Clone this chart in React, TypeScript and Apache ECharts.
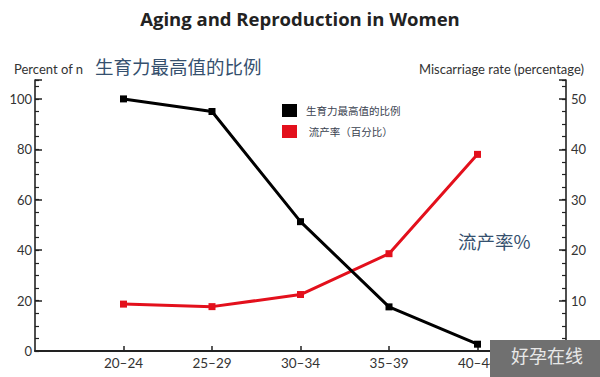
import React, { useEffect, useRef } from "react";
import * as echarts from "echarts";

const categories = ["20–24", "25–29", "30–34", "35–39", "40–44"];
const fertility = [100, 95, 51.3, 17.5, 2.7];
const miscarriage = [9.3, 8.8, 11.2, 19.3, 39];
const leftLabels = [0, 20, 40, 60, 80, 100];
const rightLabels = [10, 20, 30, 40, 50];
const seriesNames = ["生育力最高值的比例", " 流产率（百分比）"];

const FONT = "Lato, 'Noto Sans CJK SC', sans-serif";

export default function App() {
  const ref = useRef<HTMLDivElement>(null);
  useEffect(() => {
    if (!ref.current) return;
    const chart = echarts.init(ref.current, null, { renderer: "svg" });
    const axisLine = { show: true, onZero: false, lineStyle: { color: "#222", width: 1.6 } };
    chart.setOption({
      animation: false,
      backgroundColor: "#fff",
      textStyle: { fontFamily: FONT },
      title: {
        text: "Aging and Reproduction in Women",
        left: "center",
        top: 4,
        textStyle: { fontSize: 18.5, fontWeight: "bold", color: "#222", fontFamily: "'Open Sans', sans-serif" },
      },
      legend: {
        orient: "vertical",
        left: 277,
        top: 99,
        itemWidth: 15,
        itemHeight: 13,
        itemGap: 8,
        icon: "rect",
        data: seriesNames,
        textStyle: { fontSize: 10.5, color: "#3a4250", fontFamily: FONT, padding: [0, 0, 0, 4] },
      },
      grid: { left: 35, right: 34, top: 80, bottom: 26 },
      xAxis: {
        type: "value",
        min: -1,
        max: 5,
        interval: 1,
        axisLine: { show: true, onZero: false, lineStyle: { color: "#222", width: 2 } },
        axisTick: { show: true, inside: true, length: 5, customValues: [0, 1, 2, 3, 4], lineStyle: { color: "#222", width: 1.5 } },
        axisLabel: {
          customValues: [0, 1, 2, 3, 4],
          formatter: (v: number) => categories[v] ?? "",
          fontSize: 13.5,
          color: "#333",
          margin: 5,
        },
        splitLine: { show: false },
      },
      yAxis: [
        {
          type: "value",
          min: 0,
          max: 107.5,
          interval: 5,
          position: "left",
          axisLine,
          axisTick: { show: true, inside: true, length: 4, lineStyle: { color: "#222", width: 1.2 } },
          axisLabel: { customValues: leftLabels, fontSize: 13, color: "#333", margin: 3 },
          splitLine: { show: false },
        },
        {
          type: "value",
          min: 0,
          max: 53.75,
          interval: 2.5,
          position: "right",
          axisLine,
          axisTick: { show: true, inside: true, length: 4, lineStyle: { color: "#222", width: 1.2 } },
          axisLabel: { customValues: rightLabels, fontSize: 13, color: "#333", margin: 5 },
          splitLine: { show: false },
        },
        {
          type: "value",
          min: 0,
          max: 107.5,
          position: "left",
          axisLine: { show: false, onZero: false },
          axisTick: { show: true, inside: true, length: 7, customValues: [0, 20, 40, 60, 80, 100, 107.5], lineStyle: { color: "#222", width: 1.5 } },
          axisLabel: { show: false },
          splitLine: { show: false },
        },
        {
          type: "value",
          min: 0,
          max: 53.75,
          position: "right",
          axisLine: { show: false, onZero: false },
          axisTick: { show: true, inside: true, length: 7, customValues: [0, 10, 20, 30, 40, 50, 53.75], lineStyle: { color: "#222", width: 1.5 } },
          axisLabel: { show: false },
          splitLine: { show: false },
        },
      ],
      series: [
        {
          name: seriesNames[0],
          type: "line",
          yAxisIndex: 0,
          data: fertility.map((v, i) => [i, v]),
          symbol: "rect",
          symbolSize: 7,
          lineStyle: { color: "#000", width: 3 },
          itemStyle: { color: "#000" },
          z: 3,
        },
        {
          name: seriesNames[1],
          type: "line",
          yAxisIndex: 1,
          data: miscarriage.map((v, i) => [i, v]),
          symbol: "rect",
          symbolSize: 7,
          lineStyle: { color: "#e3101c", width: 3 },
          itemStyle: { color: "#e3101c" },
          z: 2,
        },
      ],
      graphic: [
        {
          type: "text",
          left: 14,
          top: 62,
          style: { text: "Percent of n", font: "13px Lato", fill: "#333" },
          z: 101,
        },
        {
          type: "text",
          right: 16,
          top: 62,
          style: { text: "Miscarriage rate (percentage)", font: "13px Lato", fill: "#333" },
          z: 101,
        },
        {
          type: "text",
          left: 95,
          top: 57,
          style: { text: "生育力最高值的比例", font: "18.5px 'Noto Sans CJK SC'", fill: "#35506e" },
          z: 101,
        },
        {
          type: "text",
          left: 458,
          top: 232,
          style: { text: "流产率%", font: "18.5px 'Noto Sans CJK SC'", fill: "#35506e" },
          z: 101,
        },
        {
          type: "rect",
          left: 490,
          top: 340,
          shape: { width: 110, height: 37 },
          style: { fill: "#707070" },
          z: 100,
        },
        {
          type: "text",
          left: 511,
          top: 346,
          style: { text: "好孕在线", font: "18px 'Noto Sans CJK SC'", fill: "#e8e8e8" },
          z: 101,
        },
      ],
    });
    return () => chart.dispose();
  }, []);
  return <div ref={ref} style={{ width: 600, height: 377, position: "absolute", left: 0, top: 0 }} />;
}
